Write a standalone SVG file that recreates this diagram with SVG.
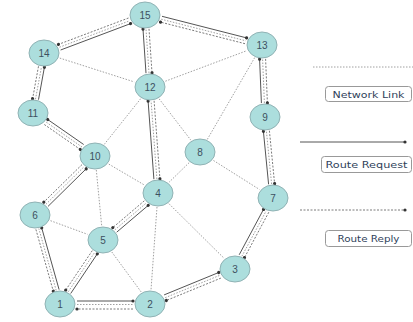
<svg xmlns="http://www.w3.org/2000/svg" width="413" height="322" viewBox="0 0 413 322">
<defs>
<marker id="dot" markerUnits="userSpaceOnUse" markerWidth="5" markerHeight="5" refX="2.5" refY="2.5" orient="auto">
<circle cx="2.5" cy="2.5" r="1.6" fill="#333"/>
</marker>
<style>
.net{stroke:#a0a0a0;stroke-width:1;stroke-dasharray:1.5 1.5;fill:none}
.req{stroke:#555;stroke-width:1;fill:none;marker-end:url(#dot)}
.rep{stroke:#7a7a7a;stroke-width:1;stroke-dasharray:2 1.5;fill:none;marker-end:url(#dot)}
.node ellipse{fill:#acdedd;stroke:#90b2b4;stroke-width:1}
.node text{font-family:"Liberation Sans",Arial,sans-serif;font-size:10px;fill:#3d5060;text-anchor:middle}
.lbox{fill:#fff;stroke:#999;stroke-width:1}
.ltext{font-family:"DejaVu Sans",Verdana,sans-serif;font-size:9.5px;fill:#2f3f5a;text-anchor:middle}
</style>
</defs>
<g id="connectors">
<line class="net" x1="59.8" y1="58.1" x2="134.2" y2="81.9"/>
<line class="net" x1="165.4" y1="81.2" x2="246.5" y2="50.8"/>
<line class="net" x1="140.7" y1="98.7" x2="104.3" y2="144.3"/>
<line class="net" x1="159.1" y1="98.8" x2="190.9" y2="140.2"/>
<line class="net" x1="254.7" y1="57.6" x2="207.3" y2="139.4"/>
<line class="net" x1="189.1" y1="162.7" x2="169.0" y2="182.3"/>
<line class="net" x1="213.5" y1="160.5" x2="259.5" y2="189.5"/>
<line class="net" x1="96.3" y1="170" x2="101.7" y2="226"/>
<line class="net" x1="108.8" y1="164.1" x2="144.2" y2="184.9"/>
<line class="net" x1="157" y1="207" x2="151" y2="290"/>
<line class="net" x1="168.9" y1="203.7" x2="224.1" y2="258.3"/>
<line class="net" x1="50.5" y1="220.7" x2="87.5" y2="234.3"/>
<line class="net" x1="111.8" y1="252" x2="141.2" y2="292"/>
<line class="req" x1="77" y1="301" x2="133" y2="301"/>
<line class="net" x1="77" y1="304.5" x2="133" y2="304.5"/>
<line class="rep" x1="133" y1="309" x2="77" y2="309"/>
<line class="req" x1="70.7" y1="293.5" x2="97.3" y2="253.9"/>
<line class="net" x1="68.2" y1="291.8" x2="94.8" y2="252.2"/>
<line class="rep" x1="92.3" y1="250.6" x2="65.7" y2="290.1"/>
<line class="req" x1="59.1" y1="289.6" x2="41.7" y2="227.8"/>
<line class="net" x1="56.2" y1="290.4" x2="38.8" y2="228.6"/>
<line class="rep" x1="35.9" y1="229.4" x2="53.3" y2="291.2"/>
<line class="req" x1="164.1" y1="294.9" x2="218.7" y2="272.5"/>
<line class="net" x1="165.2" y1="297.7" x2="219.8" y2="275.3"/>
<line class="rep" x1="220.9" y1="278.1" x2="166.3" y2="300.5"/>
<line class="req" x1="239.2" y1="254.8" x2="263.5" y2="209.4"/>
<line class="net" x1="241.9" y1="256.2" x2="266.2" y2="210.8"/>
<line class="rep" x1="268.8" y1="212.2" x2="244.5" y2="257.6"/>
<line class="req" x1="268.6" y1="184.3" x2="263.4" y2="131.3"/>
<line class="net" x1="271.6" y1="184" x2="266.4" y2="131"/>
<line class="rep" x1="269.4" y1="130.7" x2="274.6" y2="183.7"/>
<line class="req" x1="261.4" y1="103.1" x2="259.6" y2="59.1"/>
<line class="net" x1="264.4" y1="103" x2="262.6" y2="59"/>
<line class="rep" x1="265.6" y1="58.9" x2="267.4" y2="102.9"/>
<line class="req" x1="116.7" y1="232.2" x2="148.2" y2="205.4"/>
<line class="net" x1="114.8" y1="229.9" x2="146.2" y2="203.1"/>
<line class="rep" x1="144.3" y1="200.8" x2="112.8" y2="227.6"/>
<line class="req" x1="153.9" y1="179.2" x2="148.1" y2="101.2"/>
<line class="net" x1="156.9" y1="179" x2="151.1" y2="101"/>
<line class="rep" x1="154.1" y1="100.8" x2="159.9" y2="178.8"/>
<line class="req" x1="146" y1="73.2" x2="143" y2="29.2"/>
<line class="net" x1="149" y1="73" x2="146" y2="29"/>
<line class="rep" x1="149" y1="28.8" x2="152" y2="72.8"/>
<line class="req" x1="48" y1="206.4" x2="86.2" y2="168.8"/>
<line class="net" x1="45.9" y1="204.3" x2="84.1" y2="166.7"/>
<line class="rep" x1="82" y1="164.6" x2="43.8" y2="202.1"/>
<line class="req" x1="83.7" y1="144.5" x2="47.7" y2="119.5"/>
<line class="net" x1="82" y1="147" x2="46" y2="122"/>
<line class="rep" x1="44.3" y1="124.5" x2="80.3" y2="149.5"/>
<line class="req" x1="38.5" y1="99.7" x2="44.4" y2="67.3"/>
<line class="net" x1="35.5" y1="99.2" x2="41.5" y2="66.8"/>
<line class="rep" x1="38.5" y1="66.3" x2="32.6" y2="98.7"/>
<line class="req" x1="60.6" y1="50" x2="130.6" y2="23.6"/>
<line class="net" x1="59.5" y1="47.2" x2="129.6" y2="20.8"/>
<line class="rep" x1="128.5" y1="18" x2="58.4" y2="44.4"/>
<line class="req" x1="162" y1="16.3" x2="246.6" y2="37.9"/>
<line class="net" x1="161.2" y1="19.2" x2="245.8" y2="40.8"/>
<line class="rep" x1="245" y1="43.7" x2="160.5" y2="22.1"/>
</g>
<g id="n1" class="node"><ellipse cx="60" cy="304" rx="15" ry="13"/><text x="60" y="307.5">1</text></g>
<g id="n2" class="node"><ellipse cx="150" cy="304" rx="15" ry="13"/><text x="150" y="307.5">2</text></g>
<g id="n3" class="node"><ellipse cx="235" cy="269" rx="15" ry="13"/><text x="235" y="272.5">3</text></g>
<g id="n4" class="node"><ellipse cx="158" cy="193" rx="15" ry="13"/><text x="158" y="196.5">4</text></g>
<g id="n5" class="node"><ellipse cx="103" cy="240" rx="15" ry="13"/><text x="103" y="243.5">5</text></g>
<g id="n6" class="node"><ellipse cx="35" cy="215" rx="15" ry="13"/><text x="35" y="218.5">6</text></g>
<g id="n7" class="node"><ellipse cx="273" cy="198" rx="15" ry="13"/><text x="273" y="201.5">7</text></g>
<g id="n8" class="node"><ellipse cx="200" cy="152" rx="15" ry="13"/><text x="200" y="155.5">8</text></g>
<g id="n9" class="node"><ellipse cx="265" cy="117" rx="15" ry="13"/><text x="265" y="120.5">9</text></g>
<g id="n10" class="node"><ellipse cx="95" cy="156" rx="15" ry="13"/><text x="95" y="159.5">10</text></g>
<g id="n11" class="node"><ellipse cx="33" cy="113" rx="15" ry="13"/><text x="33" y="116.5">11</text></g>
<g id="n12" class="node"><ellipse cx="150" cy="87" rx="15" ry="13"/><text x="150" y="90.5">12</text></g>
<g id="n13" class="node"><ellipse cx="262" cy="45" rx="15" ry="13"/><text x="262" y="48.5">13</text></g>
<g id="n14" class="node"><ellipse cx="44" cy="53" rx="15" ry="13"/><text x="44" y="56.5">14</text></g>
<g id="n15" class="node"><ellipse cx="145" cy="15" rx="15" ry="13"/><text x="145" y="18.5">15</text></g>
<g id="legend">
<line class="net" x1="313" y1="67" x2="413" y2="67"/>
<rect class="lbox" x="325.5" y="86.5" width="86" height="15" rx="3"/>
<text class="ltext" x="368.5" y="97.5" textLength="72" lengthAdjust="spacingAndGlyphs">Network Link</text>
<line class="req" x1="300" y1="142" x2="405" y2="142"/>
<rect class="lbox" x="321.5" y="156.5" width="90" height="16" rx="3"/>
<text class="ltext" x="366.5" y="168" textLength="82" lengthAdjust="spacingAndGlyphs">Route Request</text>
<line class="rep" x1="300" y1="210" x2="405" y2="210"/>
<rect class="lbox" x="325.5" y="230.5" width="86" height="16" rx="3"/>
<text class="ltext" x="368.5" y="242" textLength="62" lengthAdjust="spacingAndGlyphs">Route Reply</text>
</g>
</svg>
